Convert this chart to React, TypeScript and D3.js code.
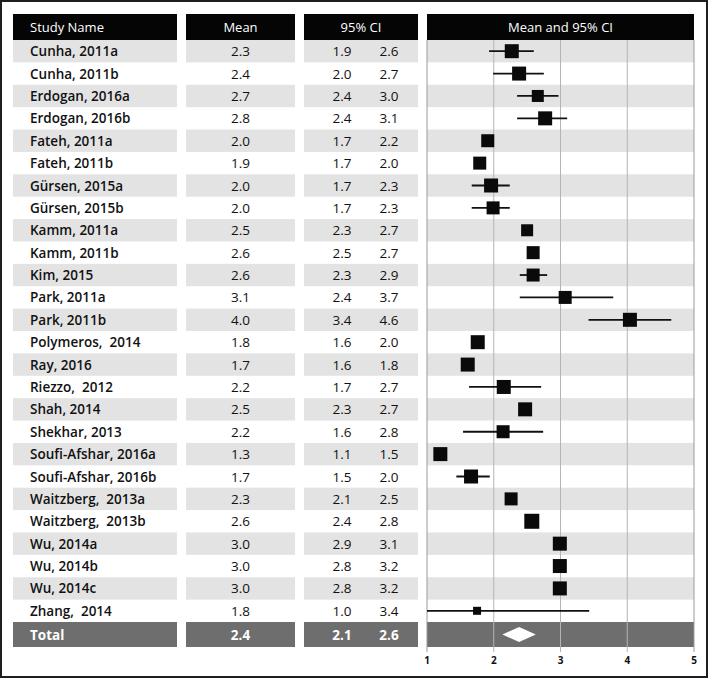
import React from 'react';
import * as d3 from 'd3';

const studies = [
  'Cunha, 2011a', 'Cunha, 2011b', 'Erdogan, 2016a', 'Erdogan, 2016b', 'Fateh, 2011a',
  'Fateh, 2011b', 'Gürsen, 2015a', 'Gürsen, 2015b', 'Kamm, 2011a', 'Kamm, 2011b',
  'Kim, 2015', 'Park, 2011a', 'Park, 2011b', 'Polymeros,  2014', 'Ray, 2016',
  'Riezzo,  2012', 'Shah, 2014', 'Shekhar, 2013', 'Soufi-Afshar, 2016a', 'Soufi-Afshar, 2016b',
  'Waitzberg,  2013a', 'Waitzberg,  2013b', 'Wu, 2014a', 'Wu, 2014b', 'Wu, 2014c',
  'Zhang,  2014'
];
// values printed in the table
const means = [2.3, 2.4, 2.7, 2.8, 2.0, 1.9, 2.0, 2.0, 2.5, 2.6, 2.6, 3.1, 4.0, 1.8, 1.7, 2.2, 2.5, 2.2, 1.3, 1.7, 2.3, 2.6, 3.0, 3.0, 3.0, 1.8];
const lows = [1.9, 2.0, 2.4, 2.4, 1.7, 1.7, 1.7, 1.7, 2.3, 2.5, 2.3, 2.4, 3.4, 1.6, 1.6, 1.7, 2.3, 1.6, 1.1, 1.5, 2.1, 2.4, 2.9, 2.8, 2.8, 1.0];
const highs = [2.6, 2.7, 3.0, 3.1, 2.2, 2.0, 2.3, 2.3, 2.7, 2.7, 2.9, 3.7, 4.6, 2.0, 1.8, 2.7, 2.7, 2.8, 1.5, 2.0, 2.5, 2.8, 3.1, 3.2, 3.2, 3.4];
// values as drawn in the forest panel (unrounded)
const plotMeans = [2.27, 2.38, 2.66, 2.77, 1.91, 1.79, 1.96, 1.99, 2.5, 2.59, 2.59, 3.07, 4.04, 1.76, 1.61, 2.15, 2.47, 2.14, 1.2, 1.66, 2.26, 2.57, 2.99, 2.99, 2.99, 1.75];
const plotLows = [1.93, 1.99, 2.35, 2.35, 1.91, 1.79, 1.67, 1.67, 2.5, 2.59, 2.39, 2.39, 3.42, 1.76, 1.61, 1.63, 2.47, 1.54, 1.2, 1.44, 2.26, 2.57, 2.99, 2.99, 2.99, 1.0];
const plotHighs = [2.6, 2.75, 2.97, 3.1, 1.91, 1.79, 2.24, 2.24, 2.5, 2.59, 2.8, 3.79, 4.66, 1.76, 1.61, 2.71, 2.47, 2.74, 1.2, 1.94, 2.26, 2.57, 2.99, 2.99, 2.99, 3.43];
// square size ~ study weight
const boxSizes = [14, 14, 12, 14, 13, 13, 14, 13, 12, 13, 13, 13, 14, 14, 14, 14, 14, 13, 14, 14, 13, 15, 14, 14, 14, 8];
const total = { name: 'Total', mean: 2.4, low: 2.1, high: 2.6 };
const totalPlot = { mean: 2.38, low: 2.13, high: 2.63 };
const headers = ['Study Name', 'Mean', '95% CI', 'Mean and 95% CI'];
const ticks = [1, 2, 3, 4, 5];

const W = 709;
const H = 679;
const font = '"Open Sans", "DejaVu Sans", sans-serif';

export default function App() {
  const cols = [
    { x0: 13, x1: 177 },
    { x0: 186, x1: 295 },
    { x0: 304, x1: 418 },
    { x0: 427, x1: 694 }
  ];
  const headTop = 14;
  const headBottom = 40;
  const y = d3.scaleBand<string>().domain(studies).range([40, 622]).padding(0);
  const bh = y.bandwidth();
  const totTop = 622;
  const totBottom = 647;
  const x = d3.scaleLinear().domain([1, 5]).range([cols[3].x0, cols[3].x1]);
  const fmt = d3.format('.1f');
  const meanX = (cols[1].x0 + cols[1].x1) / 2;
  const lowX = 342;
  const highX = 389;
  const totMid = (totTop + totBottom) / 2;

  return (
    <div style={{ position: 'absolute', left: 0, top: 0 }}>
      <svg width={W} height={H} style={{ display: 'block', background: '#fff' }}>
        <rect x={1} y={1} width={W - 3} height={H - 3} fill="#fff" stroke="#1e1e1e" strokeWidth={2} />

        {/* header */}
        {cols.map((c, i) => (
          <g key={'h' + i}>
            <rect x={c.x0} y={headTop} width={c.x1 - c.x0} height={headBottom - headTop} fill="#050505" />
            <text
              x={i === 0 ? 30 : (c.x0 + c.x1) / 2}
              y={(headTop + headBottom) / 2 + 4.5}
              textAnchor={i === 0 ? 'start' : 'middle'}
              fill="#fff"
              fontFamily={font}
              fontSize={13}
            >
              {headers[i]}
            </text>
          </g>
        ))}

        {/* stripes */}
        {studies.map((s, i) =>
          i % 2 === 0
            ? cols.map((c, j) => (
                <rect key={s + j} x={c.x0} y={y(s)} width={c.x1 - c.x0} height={bh} fill="#e3e3e3" />
              ))
            : null
        )}

        {/* total row background */}
        {cols.map((c, j) => (
          <rect key={'t' + j} x={c.x0} y={totTop} width={c.x1 - c.x0} height={totBottom - totTop} fill="#6e6e6e" />
        ))}

        {/* grid lines and ticks */}
        {ticks.map((t) => (
          <line
            key={'g' + t}
            x1={x(t)}
            x2={x(t)}
            y1={headBottom}
            y2={totBottom + 5}
            stroke={t === 1 || t === 5 ? '#9a9a9a' : '#b4b4b4'}
            strokeWidth={1}
          />
        ))}
        {ticks.map((t) => (
          <text
            key={'tl' + t}
            x={x(t)}
            y={664}
            textAnchor="middle"
            fontFamily={font}
            fontWeight={700}
            fontSize={10}
            fill="#111"
          >
            {t}
          </text>
        ))}

        {/* table text */}
        {studies.map((s, i) => {
          const cy = (y(s) as number) + bh / 2 + 5;
          return (
            <g key={'r' + s} fontFamily={font} fontSize={13.5} fill="#111">
              <text x={30} y={cy} fontWeight={600} style={{ whiteSpace: 'pre' }}>{s}</text>
              <text x={meanX} y={cy} textAnchor="middle">{fmt(means[i])}</text>
              <text x={lowX} y={cy} textAnchor="middle">{fmt(lows[i])}</text>
              <text x={highX} y={cy} textAnchor="middle">{fmt(highs[i])}</text>
            </g>
          );
        })}
        <g fontFamily={font} fontSize={13.5} fill="#fff" fontWeight={700}>
          <text x={30} y={totMid + 5}>{total.name}</text>
          <text x={meanX} y={totMid + 5} textAnchor="middle">{fmt(total.mean)}</text>
          <text x={lowX} y={totMid + 5} textAnchor="middle">{fmt(total.low)}</text>
          <text x={highX} y={totMid + 5} textAnchor="middle">{fmt(total.high)}</text>
        </g>

        {/* forest marks */}
        {studies.map((s, i) => {
          const cy = (y(s) as number) + bh / 2;
          const sz = boxSizes[i];
          return (
            <g key={'m' + s}>
              {plotHighs[i] > plotLows[i] && (
                <line x1={x(plotLows[i])} x2={x(plotHighs[i])} y1={cy} y2={cy} stroke="#111" strokeWidth={1.8} />
              )}
              <rect x={x(plotMeans[i]) - sz / 2} y={cy - sz / 2} width={sz} height={sz} fill="#0a0a0a" />
            </g>
          );
        })}
        <path
          d={`M${x(totalPlot.low)},${totMid} L${x(totalPlot.mean)},${totMid - 7.5} L${x(totalPlot.high)},${totMid} L${x(totalPlot.mean)},${totMid + 7.5} Z`}
          fill="#fff"
        />
      </svg>
    </div>
  );
}
